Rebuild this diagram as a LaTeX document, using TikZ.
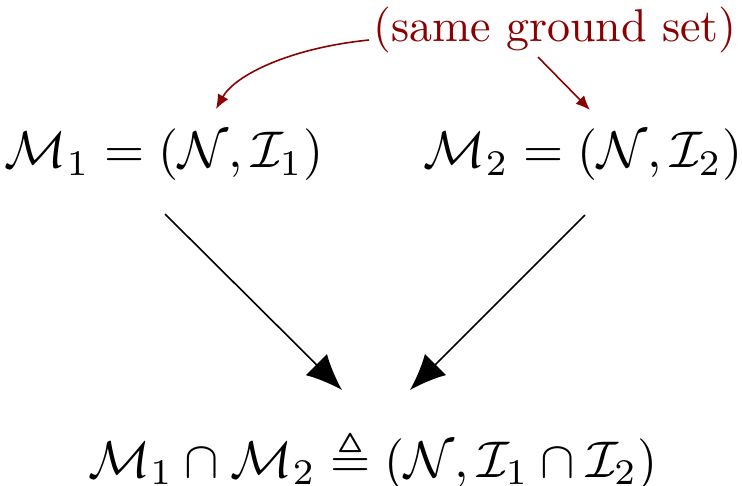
\documentclass[tikz,border=0pt]{standalone}
\usepackage{amssymb}
\usetikzlibrary{arrows.meta}
\definecolor{dred}{RGB}{139,0,0}
\begin{document}
\begin{tikzpicture}[x=0.25pt,y=-0.25pt,
  mathnode/.style={inner sep=0pt, scale=1.29},
  notenode/.style={inner sep=0pt, text=dred, scale=1.15},
  bigarrow/.style={draw=black, line width=0.4pt, -{Latex[length=9pt,width=7.5pt]}},
  redarrow/.style={draw=dred, line width=0.4pt, -{Latex[length=3.6pt,width=3pt]}}]
\useasboundingbox (0,0) rectangle (742,485);
\node[mathnode] (m1) at (164,155) {$\mathcal{M}_1 = (\mathcal{N},\mathcal{I}_1)$};
\node[mathnode] (m2) at (583,155) {$\mathcal{M}_2 = (\mathcal{N},\mathcal{I}_2)$};
\node[mathnode] (mi) at (373,460) {$\mathcal{M}_1 \cap \mathcal{M}_2 \triangleq (\mathcal{N},\mathcal{I}_1 \cap \mathcal{I}_2)$};
\node[notenode] (note) at (555,30) {(same ground set)};
\coordinate (s1) at (165,214);
\coordinate (e1) at (342,390);
\coordinate (s2) at (585,215);
\coordinate (e2) at (410,390);
\coordinate (r1s) at (369,40);
\coordinate (r1e) at (216,109);
\coordinate (r2s) at (538,57);
\coordinate (r2e) at (590,110);
\draw[bigarrow] (s1) -- (e1);
\draw[bigarrow] (s2) -- (e2);
\draw[redarrow] (r1s) .. controls (290,48) and (235,75) .. (r1e);
\draw[redarrow] (r2s) -- (r2e);
\end{tikzpicture}
\end{document}
